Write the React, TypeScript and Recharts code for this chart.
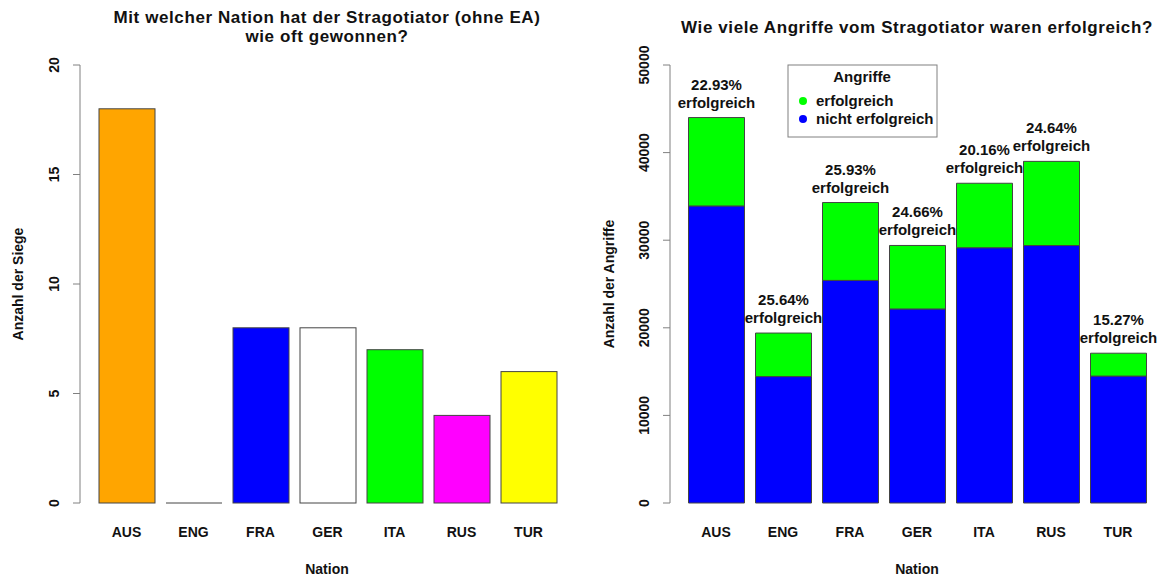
import { BarChart, Bar, XAxis, YAxis, LabelList } from 'recharts'

const nationen = ['AUS', 'ENG', 'FRA', 'GER', 'ITA', 'RUS', 'TUR']
const siege = [18, 0, 8, 8, 7, 4, 6]
const siegeFarben = ['#FFA500', '#FF0000', '#0000FF', '#FFFFFF', '#00FF00', '#FF00FF', '#FFFF00']
const erfolgreich = [10090, 4970, 8890, 7250, 7360, 9610, 2610]
const nichtErfolgreich = [33910, 14430, 25410, 22150, 29140, 29390, 14490]
const quoten = ['22.93%', '25.64%', '25.93%', '24.66%', '20.16%', '24.64%', '15.27%']
const siegeTicks = [0, 5, 10, 15, 20]
const angriffeTicks = [0, 10000, 20000, 30000, 40000, 50000]

const FONT = '"Liberation Sans", Arial, Helvetica, sans-serif'
const AXIS = '#808080'
const EDGE = '#444'

const siegeData = nationen.map((n, i) => ({ nation: n, siege: siege[i], farbe: siegeFarben[i] }))
const angriffeData = nationen.map((n, i) => ({
  nation: n,
  erfolgreich: erfolgreich[i],
  nicht: nichtErfolgreich[i],
  quote: quoten[i],
}))

function SiegBalken(props: any) {
  const { x, y, width, height, payload } = props
  if (!height) return <line x1={x} x2={x + width} y1={y} y2={y} stroke={EDGE} />
  return <rect x={x} y={y} width={width} height={height} fill={payload.farbe} stroke={EDGE} />
}

function NationTick({ x, payload }: any) {
  return (
    <text x={x} y={537} textAnchor="middle" fontFamily={FONT} fontWeight="bold" fontSize={14} fill="#111">
      {payload.value}
    </text>
  )
}

function makeYTick(cx: number) {
  return ({ y, payload }: any) => (
    <text
      x={cx}
      y={y}
      transform={`rotate(-90 ${cx} ${y})`}
      textAnchor="middle"
      dominantBaseline="central"
      fontFamily={FONT}
      fontWeight="bold"
      fontSize={14}
      fill="#111"
    >
      {payload.value}
    </text>
  )
}

// zweizeilig: Prozent + "erfolgreich" über dem Balken
function QuoteLabel(props: any) {
  const { x, y, width, value } = props
  const cx = x + width / 2
  return (
    <text x={cx} y={y - 28} fontFamily={FONT} fontWeight="bold" fontSize={15} fill="#111" textAnchor="middle">
      <tspan x={cx}>{value}</tspan>
      <tspan x={cx} dy={18}>erfolgreich</tspan>
    </text>
  )
}

function Texte() {
  const t = { fontFamily: FONT, fontWeight: 'bold' as const, fill: '#111' }
  const titel = { ...t, fontSize: 17, letterSpacing: 0.6, textAnchor: 'middle' as const }
  return (
    <svg width={1166} height={579} style={{ position: 'absolute', left: 0, top: 0, pointerEvents: 'none' }}>
      <text {...titel} x={327} y={23}>Mit welcher Nation hat der Stragotiator (ohne EA)</text>
      <text {...titel} x={327} y={42}>wie oft gewonnen?</text>
      <text {...titel} x={917} y={33}>Wie viele Angriffe vom Stragotiator waren erfolgreich?</text>

      <text {...t} x={18} y={284} fontSize={14} textAnchor="middle" dominantBaseline="central" transform="rotate(-90 18 284)">Anzahl der Siege</text>
      <text {...t} x={609} y={284} fontSize={14} textAnchor="middle" dominantBaseline="central" transform="rotate(-90 609 284)">Anzahl der Angriffe</text>
      <text {...t} x={327} y={574} fontSize={14} textAnchor="middle">Nation</text>
      <text {...t} x={917} y={574} fontSize={14} textAnchor="middle">Nation</text>

      <rect x={788} y={65} width={149} height={72} fill="#fff" stroke={AXIS} />
      <text {...t} x={862} y={82} fontSize={15} textAnchor="middle">Angriffe</text>
      <circle cx={803} cy={101} r={4} fill="#00FF00" />
      <text {...t} x={816} y={106} fontSize={15}>erfolgreich</text>
      <circle cx={803} cy={119} r={4} fill="#0000FF" />
      <text {...t} x={816} y={124} fontSize={15}>nicht erfolgreich</text>
    </svg>
  )
}

export default function App() {
  return (
    <div style={{ position: 'absolute', left: 0, top: 0, width: 1166, height: 579, background: '#fff' }}>
      <div style={{ position: 'absolute', left: 0, top: 0 }}>
        <BarChart width={583} height={579} data={siegeData} margin={{ top: 65, right: 9, bottom: 10, left: 0 }}>
          <XAxis
            dataKey="nation"
            height={66}
            axisLine={false}
            tickLine={false}
            padding={{ left: 13, right: 12 }}
            tick={<NationTick />}
            interval={0}
          />
          <YAxis
            width={80}
            domain={[0, 20]}
            ticks={siegeTicks}
            tickSize={7}
            axisLine={{ stroke: AXIS }}
            tickLine={{ stroke: AXIS }}
            tick={makeYTick(54)}
          />
          <Bar dataKey="siege" barSize={56} shape={SiegBalken} isAnimationActive={false} />
        </BarChart>
      </div>
      <div style={{ position: 'absolute', left: 583, top: 0 }}>
        <BarChart width={583} height={579} data={angriffeData} margin={{ top: 65, right: 2, bottom: 10, left: 0 }}>
          <XAxis
            dataKey="nation"
            height={66}
            axisLine={false}
            tickLine={false}
            padding={{ left: 12.5, right: 12.5 }}
            tick={<NationTick />}
            interval={0}
          />
          <YAxis
            width={87}
            domain={[0, 50000]}
            ticks={angriffeTicks}
            tickSize={7}
            axisLine={{ stroke: AXIS }}
            tickLine={{ stroke: AXIS }}
            tick={makeYTick(61)}
          />
          <Bar dataKey="nicht" stackId="a" barSize={56} fill="#0000FF" stroke={EDGE} isAnimationActive={false} />
          <Bar dataKey="erfolgreich" stackId="a" barSize={56} fill="#00FF00" stroke={EDGE} isAnimationActive={false}>
            <LabelList dataKey="quote" content={<QuoteLabel />} />
          </Bar>
        </BarChart>
      </div>
      <Texte />
    </div>
  )
}
